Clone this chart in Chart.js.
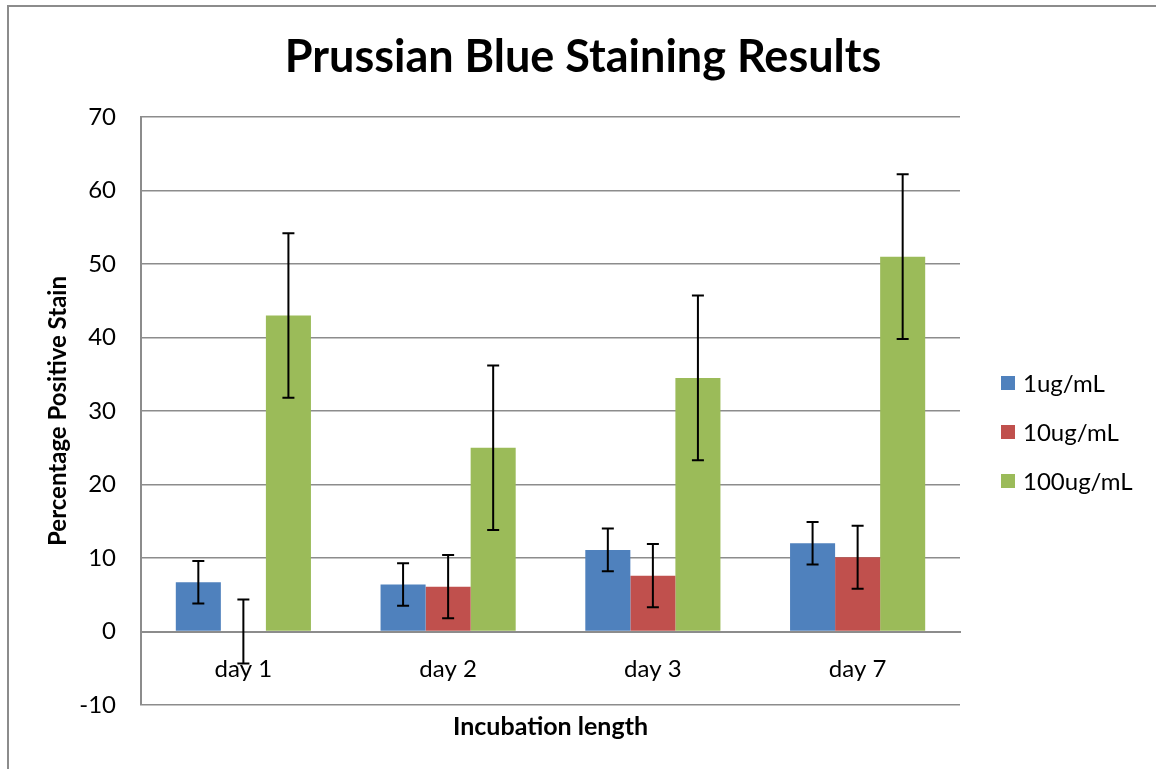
<!DOCTYPE html>
<html>
<head>
<meta charset="utf-8">
<script src="https://cdn.jsdelivr.net/npm/chart.js@4"></script>
<style>
  html, body { margin: 0; padding: 0; background: #fff; }
  #wrap { position: relative; width: 1156px; height: 769px; }
</style>
</head>
<body>
<div id="wrap"><canvas id="chart" width="1156" height="769"></canvas></div>
<script>
// ── Data ─────────────────────────────────────────────────
const DAYS = ["day 1", "day 2", "day 3", "day 7"];
const SERIES_NAMES = ["1ug/mL", "10ug/mL", "100ug/mL"];
const VALUES_1UG = [6.7, 6.4, 11.1, 12.0];
const VALUES_10UG = [0, 6.1, 7.6, 10.1];
const VALUES_100UG = [43.0, 25.0, 34.5, 51.0];
const ERR_1UG = [2.9, 2.9, 2.9, 2.9];
const ERR_10UG = [4.35, 4.3, 4.3, 4.3];
const ERR_100UG = [11.2, 11.2, 11.2, 11.2];
const Y_TICKS = [-10, 0, 10, 20, 30, 40, 50, 60, 70];

const COLORS = ["#4F81BD", "#C0504D", "#9BBB59"];
const FONT = "Lato, 'Open Sans', sans-serif";
const GRID = "#8c8c8c";

// ── Outer frame (chart border runs off the right/bottom) ─
const framePlugin = {
  id: "frame",
  beforeDraw: (chart) => {
    const { ctx } = chart;
    ctx.save();
    ctx.strokeStyle = "#8c8c8c";
    ctx.lineWidth = 2;
    ctx.strokeRect(8, 6, 1300, 900);
    ctx.restore();
  }
};

// ── Error bars, title, legend and x title ────────────────
const extrasPlugin = {
  id: "extras",
  afterDatasetsDraw: (chart) => {
    const { ctx } = chart;
    const y = chart.scales.y;
    ctx.save();
    ctx.strokeStyle = "#000";
    ctx.lineWidth = 2;
    chart.data.datasets.forEach((ds, i) => {
      const meta = chart.getDatasetMeta(i);
      meta.data.forEach((bar, j) => {
        const v = ds.data[j];
        const e = ds.errors[j];
        const yTop = y.getPixelForValue(v + e);
        const yBot = y.getPixelForValue(v - e);
        ctx.beginPath();
        ctx.moveTo(bar.x, yTop);
        ctx.lineTo(bar.x, yBot);
        ctx.moveTo(bar.x - 6, yTop);
        ctx.lineTo(bar.x + 6, yTop);
        ctx.moveTo(bar.x - 6, yBot);
        ctx.lineTo(bar.x + 6, yBot);
        ctx.stroke();
      });
    });
    ctx.restore();
  },
  afterDraw: (chart) => {
    const { ctx, chartArea } = chart;
    ctx.save();
    ctx.fillStyle = "#000";
    ctx.textAlign = "center";
    ctx.textBaseline = "middle";
    // chart title, centred on the whole canvas
    ctx.font = "bold 45px " + FONT;
    ctx.fillText("Prussian Blue Staining Results", 583, 57);
    // x axis title
    ctx.font = "bold 25px " + FONT;
    ctx.fillText("Incubation length", (chartArea.left + chartArea.right) / 2, 727);
    // legend
    ctx.font = "24px " + FONT;
    ctx.textAlign = "left";
    chart.data.datasets.forEach((ds, i) => {
      const cy = 383 + i * 49;
      ctx.fillStyle = ds.backgroundColor;
      ctx.fillRect(1001, cy - 7, 14, 14);
      ctx.fillStyle = "#000";
      ctx.fillText(ds.label, 1023, cy + 1);
    });
    ctx.restore();
  }
};

const seriesValues = [VALUES_1UG, VALUES_10UG, VALUES_100UG];
const seriesErrors = [ERR_1UG, ERR_10UG, ERR_100UG];

new Chart(document.getElementById("chart"), {
  type: "bar",
  data: {
    labels: DAYS,
    datasets: SERIES_NAMES.map((name, i) => ({
      label: name,
      data: seriesValues[i],
      errors: seriesErrors[i],
      backgroundColor: COLORS[i],
      borderWidth: 0,
      categoryPercentage: 0.66,
      barPercentage: 1.0
    }))
  },
  plugins: [framePlugin, extrasPlugin],
  options: {
    responsive: false,
    animation: false,
    layout: { padding: { left: 0, right: 196, top: 117, bottom: 64 } },
    plugins: {
      legend: { display: false },
      tooltip: { enabled: false },
      title: { display: false }
    },
    scales: {
      x: {
        position: { y: 0 },
        grid: { display: false, drawTicks: false },
        border: { display: true, color: GRID, width: 2 },
        ticks: { color: "#000", font: { family: FONT, size: 24 }, padding: 23 }
      },
      y: {
        min: -10,
        max: 70,
        afterBuildTicks: (scale) => { scale.ticks = Y_TICKS.map(v => ({ value: v })); },
        afterFit: (scale) => { scale.width = 141; },
        grid: { color: GRID, lineWidth: 1.5, drawTicks: false },
        border: { display: true, color: GRID, width: 2 },
        ticks: { color: "#000", font: { family: FONT, size: 24 }, padding: 25 },
        title: {
          display: true,
          text: "Percentage Positive Stain",
          color: "#000",
          font: { family: FONT, size: 24, weight: "bold" },
          padding: { top: 44, bottom: 0 }
        }
      }
    }
  }
});
</script>
</body>
</html>
